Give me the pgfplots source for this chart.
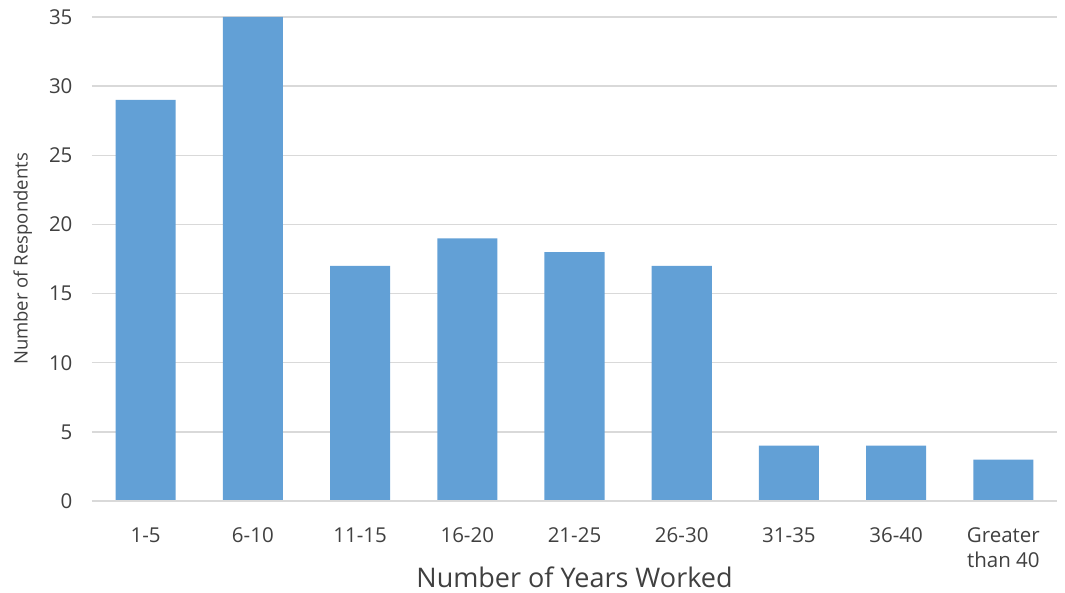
\documentclass[border=0pt]{standalone}
\usepackage{pgfplots}
\pgfplotsset{compat=1.18}
\usepackage{fontspec}
\setmainfont{Open Sans}
\definecolor{barblue}{HTML}{62A0D6}
\definecolor{gridgray}{HTML}{D9D9D9}
\definecolor{txtgray}{HTML}{404040}
\begin{document}
\begin{tikzpicture}
\begin{axis}[
  width=965pt, height=484pt, scale only axis,
  xmin=-0.5, xmax=8.5, ymin=0, ymax=35,
  ytick={0,5,...,35},
  xtick={0,...,8},
  xticklabels={1-5,6-10,11-15,16-20,21-25,26-30,31-35,36-40,{Greater\\than 40}},
  xticklabel style={align=center, font=\fontsize{20.5}{25}\selectfont, text=txtgray, anchor=north, yshift=-23pt},
  yticklabel style={font=\fontsize{20.5}{25}\selectfont, text=txtgray, xshift=-16pt},
  /pgf/number format/assume math mode=true,
  major tick length=0pt,
  axis line style={draw=none},
  ymajorgrids, grid style={gridgray, line width=1.3pt},
  xlabel={Number of Years Worked},
  ylabel={Number of Respondents},
  xlabel style={font=\fontsize{27}{32}\selectfont, text=txtgray, at={(rel axis cs:0.5,0)}, anchor=center, yshift=-76pt},
  ylabel style={font=\fontsize{18.5}{22}\selectfont, text=txtgray, yshift=10pt},
  ybar, bar width=0.56, bar shift=0pt,
  clip=false,
]
\addplot[fill=barblue, draw=none] coordinates {(0,29) (1,35) (2,17) (3,19) (4,18) (5,17) (6,4) (7,4) (8,3)};
\draw[gridgray, line width=1.3pt] (rel axis cs:0,0) -- (rel axis cs:1,0);
\coordinate (bl) at (rel axis cs:0,0);
\coordinate (tr) at (rel axis cs:1,1);
\end{axis}
\pgfresetboundingbox
\path ([shift={(-92pt,-92pt)}]bl) rectangle ([shift={(8pt,17pt)}]tr);
\end{tikzpicture}
\end{document}
